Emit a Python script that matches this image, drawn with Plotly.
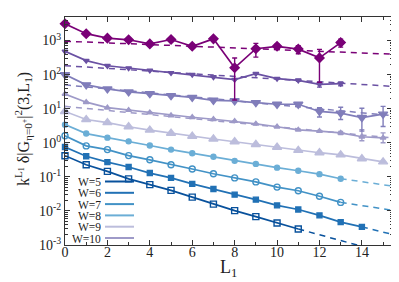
import plotly.graph_objects as go

# ---------------- data ----------------
L1 = list(range(16))

labels = ["W=5", "W=6", "W=7", "W=8", "W=9", "W=10", "W=11", "W=12", "W=13"]
colors = ["#08519c", "#2171b5", "#4292c6", "#6baed6", "#bcbddc",
          "#9e9ac8", "#807dba", "#6a51a3", "#7a0177"]

w5 = [0.417, 0.226, 0.145, 0.087, 0.059, 0.040, 0.0254, 0.0158, 0.0102, 0.0068, 0.0044, 0.00295]
w6 = [0.75, 0.40, 0.27, 0.195, 0.129, 0.093, 0.062, 0.044, 0.030, 0.0214, 0.0145, 0.011, 0.0074, 0.0047, 0.0034]
w7 = [1.6, 0.81, 0.63, 0.42, 0.316, 0.226, 0.17, 0.123, 0.093, 0.071, 0.050, 0.039, 0.027, 0.0178]
w8 = [3.4, 1.86, 1.41, 1.10, 0.83, 0.63, 0.49, 0.39, 0.295, 0.24, 0.186, 0.151, 0.120, 0.088]
w9 = [8.3, 4.8, 3.9, 2.95, 2.35, 1.9, 1.55, 1.29, 1.07, 0.89, 0.74, 0.60, 0.51, 0.44, 0.34, 0.275]
w10 = [26.9, 15.5, 10.7, 9.1, 7.7, 6.3, 5.6, 4.9, 4.3, 3.6, 2.95, 2.4, 2.2, 1.95, 1.5, 1.4]
w11 = [100, 50, 38, 31, 27.5, 24, 21.4, 17.6, 17.0, 15.1, 13.5, 13.5, 8.3, 7.4, 5.5, 6.9]
w12 = [480, 257, 182, 155, 133, 112, 100, 85, 71, 107, 76, 68, 52, 54]
w13 = [3090, 1585, 1175, 1050, 795, 1070, 675, 1120, 158, 575, 675, 560, 309, 870]

# error bars (+ / -)
w10_err_p = [0, 0, 0, 0, 0, 0, 0, 0, 0, 0, 0, 0, 0.1, 0.2, 0.9, 0.55]
w10_err_m = [0, 0, 0, 0, 0, 0, 0, 0, 0, 0, 0, 0, 0.1, 0.2, 0.35, 0.4]
w11_err_p = [0, 0, 0, 0, 0, 0, 0, 0, 0, 0, 0.5, 1.2, 2.3, 3.6, 4.8, 4.8]
w11_err_m = [0, 0, 0, 0, 0, 0, 0, 0, 0, 0, 0.5, 1.2, 2.6, 2.6, 3.3, 3.9]
w12_err_p = [0, 0, 0, 0, 0, 0, 0, 0, 0, 0, 3, 4, 9, 7]
w12_err_m = [0, 0, 0, 0, 0, 0, 0, 0, 0, 0, 3, 4, 9, 7]
w13_err_p = [0, 0, 0, 0, 0, 0, 60, 100, 150, 250, 110, 150, 240, 230]
w13_err_m = [0, 0, 0, 0, 0, 0, 60, 100, 140, 250, 110, 150, 250, 230]

# dashed asymptotic fits: start x, value at start, end x, value at end
fit_x0 = [11, 14, 13, 13, None, 0, 0, 0, 0]
fit_y0 = [0.00295, 0.0034, 0.0178, 0.088, None, 11.7, 50, 182, 955]
fit_x1 = [15.5, 15.5, 15.5, 15.5, None, 15.5, 15.5, 15.5, 15.5]
fit_y1 = [0.00051, 0.0020, 0.0103, 0.053, None, 1.37, 6.2, 45, 395]

legend_labels = ["W=5", "W=6", "W=7", "W=8", "W=9", "W=10"]

# ---------------- styles ----------------
series = [w5, w6, w7, w8, w9, w10, w11, w12, w13]
errs = [None, None, None, None, None,
        (w10_err_p, w10_err_m), (w11_err_p, w11_err_m),
        (w12_err_p, w12_err_m), (w13_err_p, w13_err_m)]
symbols = ["square-open", "square", "circle-open", "circle", "triangle-up",
           "triangle-up", "triangle-down", "triangle-down", "diamond"]
msizes = [6, 5, 6, 5, 8, 5, 8, 5, 7]

SERIF = "Liberation Serif"
INK = "#222"

fig = go.Figure()

for i in range(len(series)):
    if fit_x0[i] is None:
        continue
    fig.add_trace(go.Scatter(
        x=[fit_x0[i], fit_x1[i]], y=[fit_y0[i], fit_y1[i]],
        mode="lines", showlegend=False, hoverinfo="skip",
        line=dict(color=colors[i], width=1.5, dash="6px,5px")))

for i, ys in enumerate(series):
    xs = L1[:len(ys)]
    ebar = None
    if errs[i] is not None:
        ebar = dict(type="data", symmetric=False, array=errs[i][0],
                    arrayminus=errs[i][1], color=colors[i], thickness=1.4, width=2.5)
    fig.add_trace(go.Scatter(
        x=xs, y=ys, mode="lines+markers", name=labels[i], showlegend=False,
        cliponaxis=False,
        line=dict(color=colors[i], width=1.7),
        marker=dict(symbol=symbols[i], size=msizes[i], color=colors[i],
                    line=dict(color=colors[i], width=1.4)),
        error_y=ebar))

# ---------------- layout geometry ----------------
xlo, xhi = 0.0, 15.42
ylo, yhi = -3.0, 3.69
pl, pr, pt, pb = 57, 15, 9, 45
W, H = 399, 282
pw, ph = W - pl - pr, H - pt - pb

def px_to_paper_x(p):
    return (p - pl) / pw

def px_to_paper_y(q):
    return (H - pb - q) / ph

# custom legend (text then line sample, like the reference)
leg_y0, leg_dy = 173.5, 11.3
for j, lab in enumerate(legend_labels):
    q = leg_y0 + j * leg_dy
    fig.add_annotation(x=px_to_paper_x(94), y=px_to_paper_y(q), xref="paper", yref="paper",
                       text=lab, showarrow=False, xanchor="right", yanchor="middle",
                       borderpad=0, height=11,
                       font=dict(family=SERIF, size=11.5, color=INK))
    fig.add_shape(type="line", xref="paper", yref="paper",
                  x0=px_to_paper_x(97), x1=px_to_paper_x(126),
                  y0=px_to_paper_y(q), y1=px_to_paper_y(q),
                  line=dict(color=colors[j], width=2))

# y-axis title as rotated annotation
fig.add_annotation(x=px_to_paper_x(15), y=px_to_paper_y(121), xref="paper", yref="paper",
                   text="k<sup>L<sub>1</sub></sup> δ|G<sub>η=0<sup>+</sup></sub>|<sup>2</sup>(3,L<sub>1</sub>)",
                   textangle=-90, showarrow=False, xanchor="center", yanchor="middle",
                   font=dict(family=SERIF, size=16, color=INK))

# x-axis title
fig.add_annotation(x=px_to_paper_x(220), y=px_to_paper_y(260), xref="paper", yref="paper",
                   text="L<sub>1</sub>", showarrow=False, xanchor="center", yanchor="middle",
                   font=dict(family=SERIF, size=18, color=INK))

# ---------------- axes ----------------
ytickvals = [10.0 ** k for k in range(-3, 4)]
yticktext = ["10<sup>%d</sup>" % k for k in range(-3, 4)]
yminor = [m * 10.0 ** k for k in range(-3, 4) for m in range(2, 10)]

fig.update_xaxes(range=[xlo, xhi], tickvals=list(range(0, 16, 2)),
                 ticks="inside", ticklen=5, tickwidth=1, tickcolor="#333",
                 showline=True, linecolor="#333", linewidth=1, mirror="allticks",
                 showgrid=False, zeroline=False, ticklabelstandoff=-6,
                 minor=dict(tickvals=list(range(1, 16, 2)), ticks="inside", ticklen=3,
                            tickcolor="#333", showgrid=False),
                 tickfont=dict(family=SERIF, size=14, color=INK))
fig.update_yaxes(type="log", range=[ylo, yhi], tickvals=ytickvals, ticktext=yticktext,
                 ticks="inside", ticklen=5, tickwidth=1, tickcolor="#333",
                 showline=True, linecolor="#333", linewidth=1, mirror="allticks",
                 showgrid=False, zeroline=False,
                 minor=dict(tickvals=yminor, ticks="inside", ticklen=2.5,
                            tickcolor="#333", showgrid=False),
                 tickfont=dict(family=SERIF, size=14, color=INK))

fig.update_layout(width=W, height=H, margin=dict(l=pl, r=pr, t=pt, b=pb, autoexpand=False),
                  paper_bgcolor="white", plot_bgcolor="white", showlegend=False)

fig.write_html("out.html")
